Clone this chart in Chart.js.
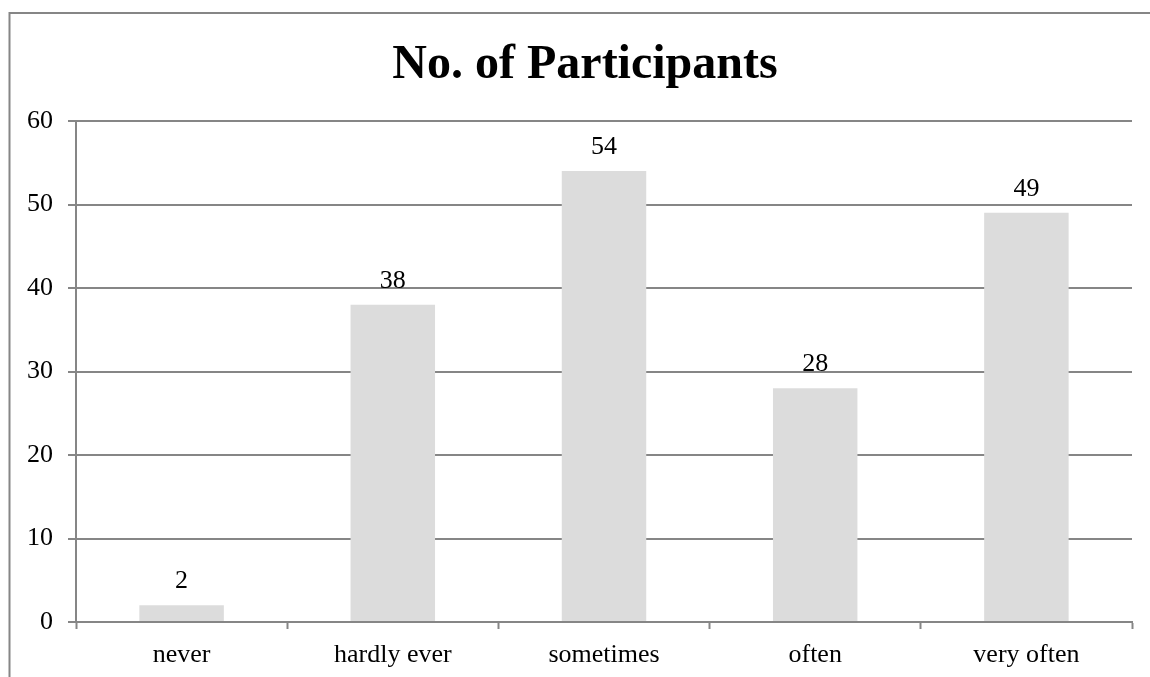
<!DOCTYPE html>
<html lang="en">
<head>
  <meta charset="UTF-8" />
  <title>No. of Participants</title>
  <script src="https://cdn.jsdelivr.net/npm/chart.js"></script>
  <style>
    html, body { margin: 0; padding: 0; background: #fff; overflow: hidden; }
    #wrap { width: 1150px; height: 677px; overflow: hidden; }
  </style>
</head>
<body>
  <div id="wrap">
    <canvas id="chart" width="1170" height="677"></canvas>
  </div>

  <script>
    const categories = ["never", "hardly ever", "sometimes", "often", "very often"];
    const participants = [2, 38, 54, 28, 49];
    const yTicks = [0, 10, 20, 30, 40, 50, 60];

    const FONT = "'Liberation Serif', 'Times New Roman', serif";
    const GRID = "#868686";

    // gray frame around the whole chart
    const frame = {
      id: "frame",
      beforeDraw(chart) {
        const ctx = chart.ctx;
        ctx.save();
        ctx.strokeStyle = GRID;
        ctx.lineWidth = 2;
        ctx.strokeRect(9.5, 13, chart.width + 20, chart.height + 20);
        ctx.restore();
      }
    };

    // value written above each bar
    const valueLabels = {
      id: "valueLabels",
      afterDatasetsDraw(chart) {
        const ctx = chart.ctx;
        const meta = chart.getDatasetMeta(0);
        ctx.save();
        ctx.font = "26px " + FONT;
        ctx.fillStyle = "#000";
        ctx.textAlign = "center";
        ctx.textBaseline = "alphabetic";
        meta.data.forEach((bar, i) => {
          ctx.fillText(String(participants[i]), bar.x, bar.y - 17);
        });
        ctx.restore();
      }
    };

    new Chart(document.getElementById("chart"), {
      type: "bar",
      data: {
        labels: categories,
        datasets: [{
          label: "No. of Participants",
          data: participants,
          backgroundColor: "#dcdcdc",
          borderWidth: 0,
          barPercentage: 0.4,
          categoryPercentage: 1.0,
          yAxisID: "y"
        }]
      },
      options: {
        responsive: false,
        animation: false,
        layout: { padding: 0 },
        plugins: {
          legend: { display: false },
          tooltip: { enabled: false },
          title: {
            display: true,
            text: "No. of Participants",
            color: "#000",
            font: { family: FONT, size: 48, weight: "bold", lineHeight: "58px" },
            padding: { top: 37, bottom: 26 }
          }
        },
        scales: {
          x: {
            grid: {
              offset: true,
              drawOnChartArea: false,
              drawTicks: true,
              tickLength: 7,
              tickWidth: 2,
              color: GRID
            },
            border: { display: true, color: GRID, width: 2 },
            ticks: {
              color: "#000",
              padding: 11,
              font: { family: FONT, size: 26 },
              maxRotation: 0
            },
            afterFit(scale) { scale.height = 55; }
          },
          y: {
            position: "left",
            min: 0,
            max: yTicks[yTicks.length - 1],
            afterBuildTicks(scale) {
              scale.ticks = yTicks.map(v => ({ value: v }));
            },
            grid: {
              color: GRID,
              lineWidth: 2,
              tickLength: 8,
              tickWidth: 2
            },
            border: { display: true, color: GRID, width: 2 },
            ticks: {
              color: "#000",
              padding: 15,
              font: { family: FONT, size: 26 }
            },
            afterFit(scale) { scale.width = 76; }
          },
          // empty right-hand strip so the plot ends short of the frame
          yRight: {
            position: "right",
            grid: { display: false },
            border: { display: false },
            ticks: { display: false },
            afterFit(scale) { scale.width = 38; }
          }
        }
      },
      plugins: [frame, valueLabels]
    });
  </script>
</body>
</html>
